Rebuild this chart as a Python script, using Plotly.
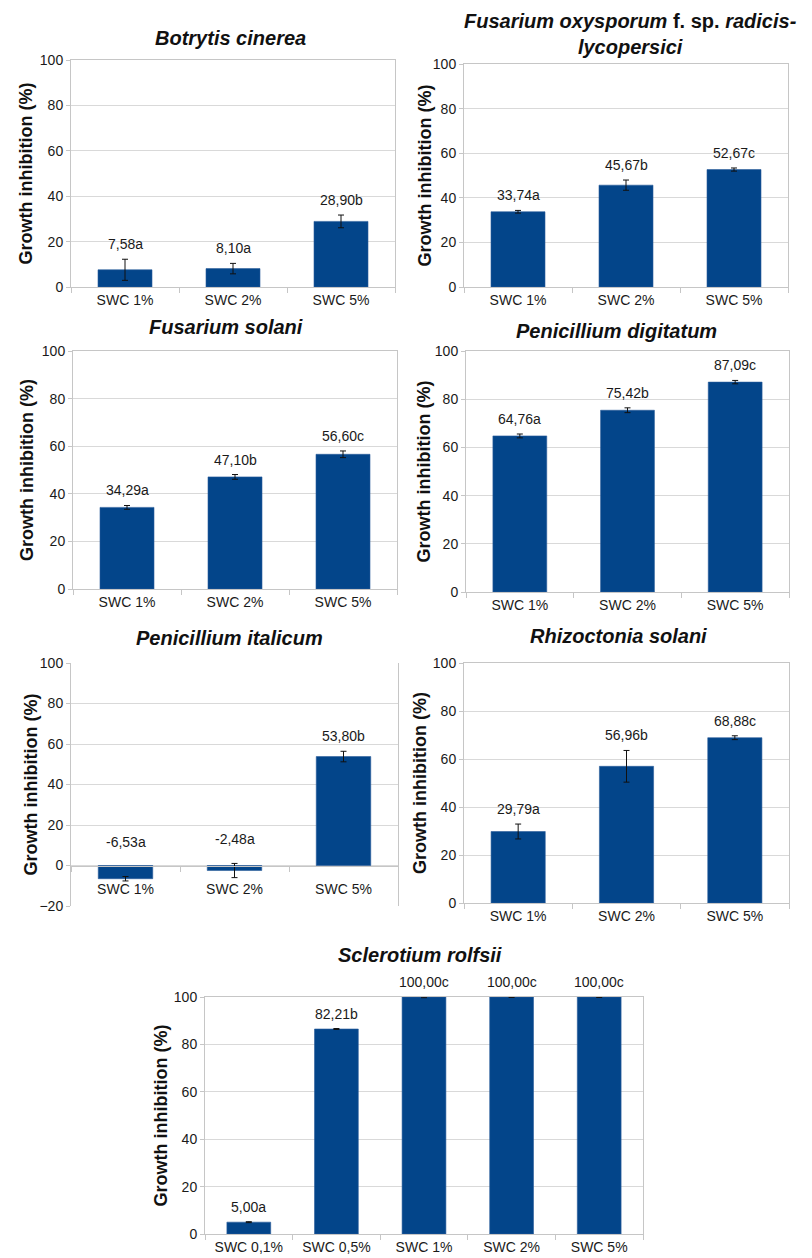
import plotly.graph_objects as go

PAGE_W, PAGE_H = 812, 1258
OFF = 8  # default page margin around the plot div
W, H = PAGE_W - OFF, PAGE_H - OFF

# ---------------- data ----------------
cats3 = ["SWC 1%", "SWC 2%", "SWC 5%"]
cats5 = ["SWC 0,1%", "SWC 0,5%", "SWC 1%", "SWC 2%", "SWC 5%"]

botrytis_vals = [7.58, 8.10, 28.90]
botrytis_err = [4.65, 2.3, 2.8]
botrytis_labels = ["7,58a", "8,10a", "28,90b"]

foxy_vals = [33.74, 45.67, 52.67]
foxy_err = [0.6, 2.3, 0.7]
foxy_labels = ["33,74a", "45,67b", "52,67c"]

fsol_vals = [34.29, 47.10, 56.60]
fsol_err = [0.8, 1.0, 1.4]
fsol_labels = ["34,29a", "47,10b", "56,60c"]

pdig_vals = [64.76, 75.42, 87.09]
pdig_err = [0.8, 1.0, 0.7]
pdig_labels = ["64,76a", "75,42b", "87,09c"]

pita_vals = [-6.53, -2.48, 53.80]
pita_err = [1.1, 3.5, 2.6]
pita_labels = ["-6,53a", "-2,48a", "53,80b"]

rhiz_vals = [29.79, 56.96, 68.88]
rhiz_err = [3.1, 6.6, 0.8]
rhiz_labels = ["29,79a", "56,96b", "68,88c"]

scler_vals = [5.00, 86.5, 100.0, 100.0, 100.0]
scler_err = [0.2, 0.2, 0.3, 0.2, 0.2]
scler_labels = ["5,00a", "82,21b", "100,00c", "100,00c", "100,00c"]

# ---------------- layout (page-pixel boxes) ----------------
BAR = "#03458A"
GRID = "#d9d9d9"
LINE = "#c6c6c6"
FONT = "Liberation Sans, Arial, sans-serif"


def px(x):
    return (x - OFF) / W


def py(y):
    return 1 - (y - OFF) / H


panels = [
    dict(cats=cats3, vals=botrytis_vals, err=botrytis_err, labels=botrytis_labels,
         box=(71, 395, 60, 287), yr=(0, 100),
         title="<b><i>Botrytis cinerea</i></b>", tx=230, ty=38, ax=25),
    dict(cats=cats3, vals=foxy_vals, err=foxy_err, labels=foxy_labels,
         box=(464, 788, 64, 287), yr=(0, 100),
         title="<b><i>Fusarium oxysporum</i> f. sp. <i>radicis-</i><br><i>lycopersici</i></b>",
         tx=630, ty=34, ax=424),
    dict(cats=cats3, vals=fsol_vals, err=fsol_err, labels=fsol_labels,
         box=(73, 397, 351, 589), yr=(0, 100),
         title="<b><i>Fusarium solani</i></b>", tx=226, ty=327, ax=27),
    dict(cats=cats3, vals=pdig_vals, err=pdig_err, labels=pdig_labels,
         box=(466, 789, 351, 592), yr=(0, 100),
         title="<b><i>Penicillium digitatum</i></b>", tx=616, ty=331, ax=423),
    dict(cats=cats3, vals=pita_vals, err=pita_err, labels=pita_labels,
         box=(71, 398, 663, 906), yr=(-20, 100),
         title="<b><i>Penicillium italicum</i></b>", tx=229, ty=638, ax=30),
    dict(cats=cats3, vals=rhiz_vals, err=rhiz_err, labels=rhiz_labels,
         box=(464, 789, 663, 903), yr=(0, 100),
         title="<b><i>Rhizoctonia solani</i></b>", tx=618, ty=636, ax=420),
    dict(cats=cats5, vals=scler_vals, err=scler_err, labels=scler_labels,
         box=(205, 643, 997, 1234), yr=(0, 100),
         title="<b><i>Sclerotium rolfsii</i></b>", tx=420, ty=955, ax=160),
]

fig = go.Figure()
annotations = []
layout = dict(width=W, height=H, margin=dict(l=0, r=0, t=0, b=0, autoexpand=False),
              paper_bgcolor="white", plot_bgcolor="white", showlegend=False,
              template="none",
              font=dict(family=FONT, color="#1a1a1a"))

for i, p in enumerate(panels, start=1):
    xs = "" if i == 1 else str(i)
    xl, xr, yt, yb = p["box"]
    xdom = [px(xl), px(xr)]
    ydom = [py(yb), py(yt)]
    y0, y1 = p["yr"]

    fig.add_trace(go.Bar(
        x=p["cats"], y=p["vals"], width=0.5,
        marker=dict(color=BAR, line=dict(color="#2a5d9a", width=0.6)),
        error_y=dict(type="data", array=p["err"], visible=True,
                     color="#111111", thickness=1, width=3),
        xaxis="x" + xs, yaxis="y" + xs, hoverinfo="skip", cliponaxis=False))

    xa = dict(domain=xdom, anchor="y" + xs, type="category", automargin=False,
              showline=True, linecolor=LINE, linewidth=1,
              ticks="outside", tickson="boundaries", ticklen=5, tickcolor=LINE,
              tickfont=dict(size=14, family=FONT, color="#1a1a1a"),
              showgrid=False, zeroline=False, fixedrange=True)
    if y0 < 0:
        zero_pos = ydom[0] + (0 - y0) / (y1 - y0) * (ydom[1] - ydom[0])
        xa.update(anchor="free", position=zero_pos, ticklabelstandoff=11)
    else:
        xa.update(mirror=True)
    ya = dict(domain=ydom, anchor="x" + xs, range=[y0, y1], dtick=20,
              automargin=False,
              showline=True, linecolor=LINE, linewidth=1, mirror=True,
              ticks="outside", ticklen=4, tickcolor=LINE,
              showgrid=True, gridcolor=GRID, gridwidth=1, zeroline=False,
              tickfont=dict(size=14, family=FONT, color="#1a1a1a"),
              fixedrange=True)
    layout["xaxis" + xs] = xa
    layout["yaxis" + xs] = ya

    # data labels (anchored to the error-bar tip, kept inside the axis range)
    for c, v, e, t in zip(p["cats"], p["vals"], p["err"], p["labels"]):
        base = min(max(v + e, 0), y1)
        annotations.append(dict(
            x=c, y=base, xref="x" + xs, yref="y" + xs, text=t, showarrow=False,
            yanchor="bottom", yshift=5 if v >= 0 else 14,
            font=dict(size=14, family=FONT, color="#1a1a1a")))

    # title
    annotations.append(dict(
        x=px(p["tx"]), y=py(p["ty"]), xref="paper", yref="paper",
        text=p["title"], showarrow=False, xanchor="center", yanchor="middle",
        font=dict(size=20, family=FONT, color="#111111")))

    # y-axis title
    annotations.append(dict(
        x=px(p["ax"]), y=(ydom[0] + ydom[1]) / 2, xref="paper", yref="paper",
        text="<b>Growth inhibition (%)</b>", textangle=-90, showarrow=False,
        xanchor="center", yanchor="middle",
        font=dict(size=18, family=FONT, color="#111111")))

layout["annotations"] = annotations
fig.update_layout(**layout)
fig.write_html("out.html")
